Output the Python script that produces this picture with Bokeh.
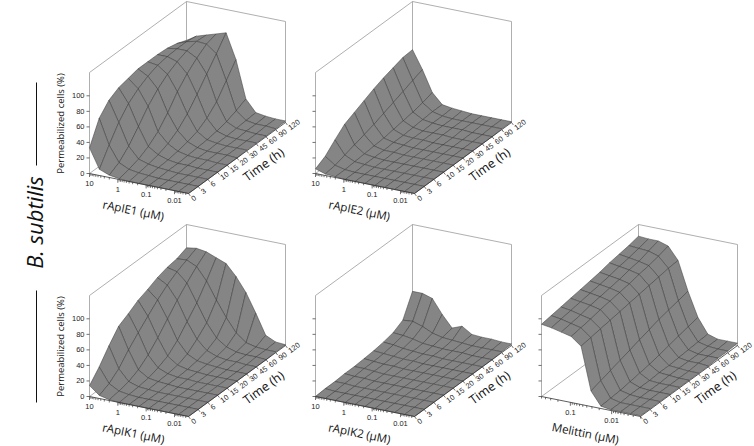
import math
from bokeh.plotting import figure
from bokeh.models import Range1d
from bokeh.embed import file_html
from bokeh.resources import INLINE
from bokeh.core.properties import value

# time points (h), drawn equally spaced
times = ["0", "3", "6", "10", "15", "20", "30", "45", "60", "90", "120"]

# concentration grids (uM), high -> low
conc_apl = [10, 4.47, 2.0, 0.894, 0.4, 0.179, 0.08, 0.0358, 0.016, 0.00716, 0.0032]
conc_mel = [0.5, 0.288, 0.166, 0.0955, 0.055, 0.0316, 0.0182, 0.0105, 0.00604, 0.00348, 0.002]

apl_ticks = [10, 1, 0.1, 0.01]
apl_tick_labels = ["10", "1", "0.1", "0.01"]
mel_ticks = [0.1, 0.01]
mel_tick_labels = ["0.1", "0.01"]
z_ticks = [0, 20, 40, 60, 80, 100]

# permeabilized cells (%), one row per time point, one column per concentration
ie1 = [
    [33, 8, 3, 1, 0, 0, 0, 0, 0, 0, 0],
    [62, 30, 10, 4, 2, 1, 0, 0, 0, 0, 0],
    [76, 50, 22, 8, 4, 2, 1, 0, 0, 0, 0],
    [83, 65, 38, 15, 7, 3, 1, 1, 0, 0, 0],
    [86, 75, 55, 25, 12, 5, 2, 1, 1, 0, 0],
    [89, 82, 68, 40, 20, 8, 3, 1, 1, 1, 0],
    [89, 87, 78, 58, 32, 12, 4, 2, 1, 1, 1],
    [89, 89, 85, 72, 48, 20, 6, 2, 1, 1, 1],
    [88, 90, 90, 83, 65, 32, 9, 3, 2, 1, 1],
    [85, 90, 93, 92, 82, 50, 14, 4, 2, 2, 1],
    [80, 88, 92, 96, 100, 68, 20, 5, 3, 2, 2],
]
ie2 = [
    [6, 2, 1, 0, 0, 0, 0, 0, 0, 0, 0],
    [13, 4, 1, 0, 0, 0, 0, 0, 0, 0, 0],
    [25, 8, 2, 1, 0, 0, 0, 0, 0, 0, 0],
    [36, 12, 3, 1, 0, 0, 0, 0, 0, 0, 0],
    [42, 16, 4, 1, 1, 0, 0, 0, 0, 0, 0],
    [48, 20, 5, 2, 1, 0, 0, 0, 0, 0, 0],
    [54, 25, 7, 2, 1, 1, 0, 0, 0, 0, 0],
    [59, 30, 9, 3, 1, 1, 1, 0, 0, 0, 0],
    [63, 35, 11, 4, 2, 1, 1, 1, 0, 0, 0],
    [67, 40, 14, 5, 2, 1, 1, 1, 1, 1, 1],
    [68, 45, 18, 5, 3, 2, 1, 1, 1, 1, 1],
]
ik1 = [
    [14, 4, 1, 0, 0, 0, 0, 0, 0, 0, 0],
    [29, 10, 3, 1, 0, 0, 0, 0, 0, 0, 0],
    [47, 20, 6, 2, 1, 0, 0, 0, 0, 0, 0],
    [63, 35, 12, 4, 2, 1, 0, 0, 0, 0, 0],
    [70, 48, 22, 8, 3, 1, 1, 0, 0, 0, 0],
    [78, 60, 35, 14, 5, 2, 1, 0, 0, 0, 0],
    [83, 72, 50, 25, 10, 4, 2, 1, 0, 0, 0],
    [89, 82, 65, 40, 20, 8, 3, 1, 1, 0, 0],
    [93, 90, 78, 55, 32, 15, 6, 2, 1, 1, 0],
    [95, 96, 90, 74, 52, 32, 15, 5, 2, 1, 1],
    [100, 102, 100, 95, 90, 76, 58, 34, 8, 2, 1],
]
ik2 = [
    [0, 0, 0, 0, 0, 0, 0, 0, 0, 0, 0],
    [1, 0, 0, 0, 0, 0, 0, 0, 0, 0, 0],
    [1, 1, 0, 0, 0, 0, 0, 0, 0, 0, 0],
    [2, 1, 1, 0, 0, 0, 0, 0, 0, 0, 0],
    [2, 2, 1, 0, 0, 0, 0, 0, 0, 0, 0],
    [3, 2, 1, 1, 0, 0, 0, 0, 0, 0, 0],
    [4, 3, 2, 1, 1, 0, 0, 0, 0, 0, 0],
    [6, 5, 3, 2, 1, 1, 0, 0, 0, 0, 0],
    [9, 8, 6, 3, 2, 1, 1, 1, 0, 0, 0],
    [16, 17, 13, 7, 4, 3, 2, 1, 1, 1, 1],
    [44, 44, 40, 22, 7, 12, 4, 3, 3, 2, 2],
]
mel = [
    [93, 91, 88, 85, 75, 20, 3, 1, 1, 1, 1],
    [95, 93, 90, 87, 77, 24, 4, 1, 1, 1, 1],
    [97, 95, 92, 89, 79, 28, 5, 2, 1, 1, 1],
    [99, 97, 95, 92, 81, 32, 7, 2, 1, 1, 1],
    [101, 99, 97, 94, 83, 36, 9, 2, 1, 1, 1],
    [103, 101, 99, 96, 85, 40, 11, 3, 2, 1, 1],
    [105, 103, 101, 98, 87, 44, 14, 3, 2, 1, 1],
    [108, 106, 104, 101, 89, 48, 17, 4, 2, 2, 1],
    [110, 108, 106, 103, 91, 51, 20, 5, 2, 2, 2],
    [112, 111, 110, 106, 93, 54, 23, 6, 3, 2, 2],
    [115, 114, 114, 110, 94, 57, 26, 7, 3, 3, 3],
]

# oblique projection of the box (pixels)
CX, CY = 99.0, 20.0     # whole concentration axis
TX, TY = 97.0, -71.0    # whole time axis
ZMAX, ZPX = 130.0, 101.0

panels = [
    ("rApIE1 (µM)", conc_apl, apl_ticks, apl_tick_labels, ie1, (89, 173), True),
    ("rApIE2 (µM)", conc_apl, apl_ticks, apl_tick_labels, ie2, (315, 173), False),
    ("rApIK1 (µM)", conc_apl, apl_ticks, apl_tick_labels, ik1, (89, 396), True),
    ("rApIK2 (µM)", conc_apl, apl_ticks, apl_tick_labels, ik2, (315, 396), False),
    ("Melittin (µM)", conc_mel, mel_ticks, mel_tick_labels, mel, (541, 396), False),
]

p = figure(width=754, height=446, x_range=Range1d(0, 754), y_range=Range1d(446, 0),
           toolbar_location=None, output_backend="svg", min_border=0)
p.axis.visible = False
p.grid.visible = False
p.outline_line_color = None

TICKFONT = value("Liberation Sans")
LABFONT = value("Open Sans")

for title, conc, ticks, tick_labels, grid, o, left in panels:
    lc0 = math.log10(conc[0])
    span = lc0 - math.log10(conc[-1])
    nt = len(times) - 1

    def pt(u, v, z):
        return (o[0] + u * CX + v * TX, o[1] + u * CY + v * TY - z * ZPX / ZMAX)

    def uof(c):
        return (lc0 - math.log10(c)) / span

    # back walls of the box
    corners = [((0, 0, 0), (0, 0, ZMAX)), ((0, 0, ZMAX), (0, 1, ZMAX)),
               ((0, 1, 0), (0, 1, ZMAX)), ((0, 1, ZMAX), (1, 1, ZMAX)),
               ((1, 1, 0), (1, 1, ZMAX)), ((0, 0, 0), (0, 1, 0)), ((0, 1, 0), (1, 1, 0))]
    bx0, by0, bx1, by1 = [], [], [], []
    for a, b in corners:
        xa, ya = pt(*a)
        xb, yb = pt(*b)
        bx0.append(xa); by0.append(ya); bx1.append(xb); by1.append(yb)
    p.segment(bx0, by0, bx1, by1, line_color="#9a9a9a", line_width=0.8)

    # surface, painted back to front
    quads = []
    for j in range(nt):
        for i in range(len(conc) - 1):
            cell = [(i, j), (i + 1, j), (i + 1, j + 1), (i, j + 1)]
            xs, ys = [], []
            for ci, tj in cell:
                x, y = pt(uof(conc[ci]), tj / nt, grid[tj][ci])
                xs.append(x); ys.append(y)
            uc = (uof(conc[i]) + uof(conc[i + 1])) / 2
            vc = (j + 0.5) / nt
            quads.append((uc * CY + vc * TY, xs, ys))
    quads.sort(key=lambda q: q[0])
    p.patches([q[1] for q in quads], [q[2] for q in quads], fill_color="#858585",
              line_color="#383838", line_width=0.5)

    # front axes
    ax0, ay0, ax1, ay1 = [], [], [], []
    for a, b in [((0, 0, 0), (1, 0, 0)), ((1, 0, 0), (1, 1, 0))]:
        xa, ya = pt(*a)
        xb, yb = pt(*b)
        ax0.append(xa); ay0.append(ya); ax1.append(xb); ay1.append(yb)
    p.segment(ax0, ay0, ax1, ay1, line_color="#333333", line_width=0.8)

    # concentration ticks (log)
    tx0, ty0, tx1, ty1 = [], [], [], []
    for e in range(-4, 2):
        for m in range(1, 10):
            c = m * 10.0 ** e
            if conc[-1] * 0.999 <= c <= conc[0] * 1.001:
                x, y = pt(uof(c), 0, 0)
                tx0.append(x); ty0.append(y); tx1.append(x)
                ty1.append(y + (3.5 if m == 1 else 2))
    # time ticks
    for j in range(len(times)):
        x, y = pt(1, j / nt, 0)
        tx0.append(x); ty0.append(y); tx1.append(x + 1.8); ty1.append(y + 2.4)
    # z ticks
    for z in z_ticks:
        x, y = pt(0, 0, z)
        tx0.append(x); ty0.append(y); tx1.append(x - 3); ty1.append(y)
    p.segment(tx0, ty0, tx1, ty1, line_color="#333333", line_width=0.7)

    cx = [pt(uof(c), 0, 0)[0] for c in ticks]
    cy = [pt(uof(c), 0, 0)[1] + 10 for c in ticks]
    p.text(cx, cy, text=tick_labels, text_font=TICKFONT, text_font_size="7.5px",
           text_align="center", text_baseline="middle", text_color="#222222")

    tlx = [pt(1, j / nt, 0)[0] + 3.5 for j in range(len(times))]
    tly = [pt(1, j / nt, 0)[1] + 6 for j in range(len(times))]
    p.text(tlx, tly, text=times, angle=0.63, text_font=TICKFONT, text_font_size="7.5px",
           text_align="left", text_baseline="middle", text_color="#222222")

    if left:
        zx = [o[0] - 5] * len(z_ticks)
        zy = [pt(0, 0, z)[1] for z in z_ticks]
        p.text(zx, zy, text=[str(z) for z in z_ticks], text_font=TICKFONT,
               text_font_size="7.5px", text_align="right", text_baseline="middle",
               text_color="#222222")
        p.text([o[0] - 29], [o[1] - 50], text=["Permeabilized cells (%)"], angle=math.pi / 2,
               text_font=LABFONT, text_font_size="9.5px", text_align="center",
               text_baseline="middle", text_color="#111111")

    p.text([o[0] + 44], [o[1] + 36.5], text=[title], angle=-0.2, text_font=LABFONT,
           text_font_size="11.5px", text_align="center", text_baseline="middle",
           text_color="#111111")
    p.text([o[0] + 174], [o[1] - 9], text=["Time (h)"], angle=0.63, text_font=LABFONT,
           text_font_size="12.5px", text_align="center", text_baseline="middle",
           text_color="#111111")

# row label
p.segment([36, 36], [82, 290], [36, 36], [165, 402], line_color="#111111", line_width=1)
p.text([33], [222], text=["B. subtilis"], angle=math.pi / 2, text_font=LABFONT,
       text_font_size="22px", text_font_style="italic", text_align="center",
       text_baseline="middle", text_color="#111111")

open("out.html", "w").write(file_html(p, INLINE))
